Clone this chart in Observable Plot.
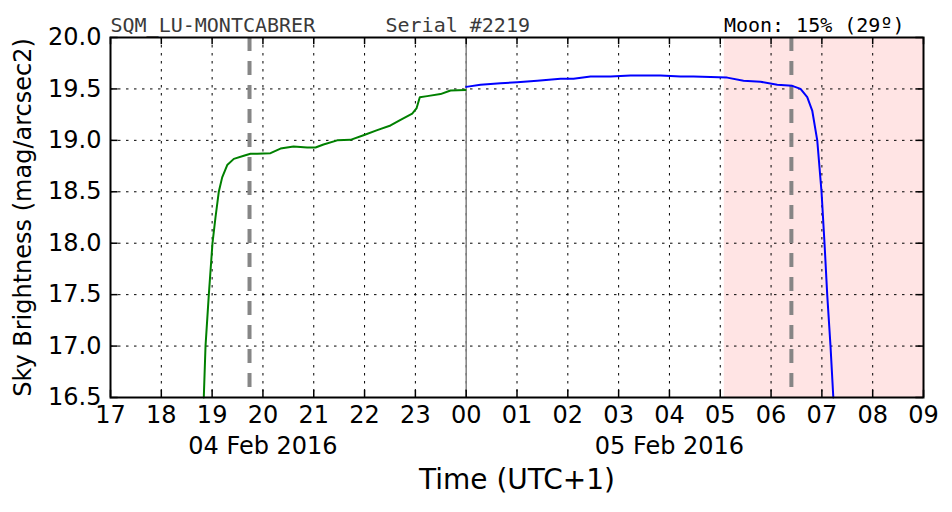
<!DOCTYPE html>
<html><head><meta charset="utf-8">
<script src="https://cdn.jsdelivr.net/npm/d3@7"></script>
<script src="https://cdn.jsdelivr.net/npm/@observablehq/plot@0.6"></script>
<style>body{margin:0;background:#fff} #chart{width:952px;height:512px}</style>
</head><body><div id="chart"></div>
<script>
// Hours counted from 04 Feb 2016 00:00 (UTC+1)
const xTicks = [17,18,19,20,21,22,23,24,25,26,27,28,29,30,31,32,33];
const xTickLabels = ["17","18","19","20","21","22","23","00","01","02","03","04","05","06","07","08","09"];
const yTicks = [16.5,17.0,17.5,18.0,18.5,19.0,19.5,20.0];
const eveningHours  = [18.836,18.870,18.935,19.007,19.066,19.131,19.198,19.297,19.427,19.623,19.755,19.887,20.149,20.346,20.602,20.871,21.035,21.192,21.462,21.724,21.979,22.249,22.511,22.708,22.938,23.022,23.087,23.233,23.495,23.692,23.987];
const eveningValues = [16.5,17.0,17.5,18.0,18.25,18.5,18.64,18.76,18.82,18.85,18.87,18.87,18.875,18.92,18.94,18.93,18.93,18.96,19.0,19.005,19.05,19.10,19.145,19.20,19.26,19.31,19.42,19.43,19.45,19.485,19.49];
const morningHours  = [24.0,24.282,24.676,25.004,25.398,25.857,26.112,26.447,26.841,27.235,27.825,28.219,28.474,28.809,29.137,29.458,29.793,30.122,30.416,30.580,30.712,30.810,30.909,30.993,31.052,31.105,31.170,31.225];
const morningValues = [19.52,19.54,19.555,19.565,19.58,19.60,19.60,19.62,19.62,19.63,19.63,19.62,19.62,19.615,19.61,19.58,19.57,19.54,19.53,19.50,19.42,19.29,19.0,18.5,18.0,17.5,17.0,16.5];
const twilightHours = [19.736, 30.40];
const moonUp = [{start: 29.08, end: 33}];
const midnight = [24];
const dateLabels = ["04 Feb 2016", "05 Feb 2016"];
const dateLabelHours = [20, 28];

const evening = eveningHours.map((h, i) => ({h, v: eveningValues[i]}));
const morning = morningHours.map((h, i) => ({h, v: morningValues[i]}));
const grid = {stroke: "black", strokeWidth: 1, strokeDasharray: "2.5,5.5", strokeOpacity: 1};

const plot = Plot.plot({
  width: 952, height: 512,
  marginLeft: 110, marginRight: 29, marginTop: 37, marginBottom: 115,
  style: {fontFamily: "DejaVu Sans", background: "white", overflow: "visible", color: "black"},
  x: {domain: [17, 33]},
  y: {domain: [16.5, 20]},
  marks: [
    Plot.rect(moonUp, {x1: "start", x2: "end", fill: "#ffe4e4"}),
    Plot.ruleX(xTicks.slice(1, -1), grid),
    Plot.ruleY(yTicks.slice(1, -1), grid),
    Plot.ruleX(midnight, {stroke: "#808080", strokeWidth: 1.5}),
    Plot.ruleX(twilightHours, {stroke: "#808080", strokeOpacity: 0.95, strokeWidth: 4, strokeDasharray: "14,10"}),
    Plot.line(evening, {x: "h", y: "v", stroke: "#008000", strokeWidth: 2}),
    Plot.line(morning, {x: "h", y: "v", stroke: "#0000ff", strokeWidth: 2}),
    Plot.frame({stroke: "black", strokeWidth: 2}),
    Plot.ruleX(xTicks, {y1: 16.5, y2: 16.5 + 0.07, stroke: "black", strokeWidth: 1.5}),
    Plot.ruleX(xTicks, {y1: 20, y2: 20 - 0.07, stroke: "black", strokeWidth: 1.5}),
    Plot.ruleY(yTicks, {x1: 17, x2: 17 + 0.15, stroke: "black", strokeWidth: 1.5}),
    Plot.ruleY(yTicks, {x1: 33, x2: 33 - 0.15, stroke: "black", strokeWidth: 1.5}),
    Plot.axisX(xTicks, {tickSize: 0, tickPadding: 8, fontSize: 24, label: null,
      tickFormat: d => xTickLabels[xTicks.indexOf(d)]}),
    Plot.axisY(yTicks, {tickSize: 0, tickPadding: 9, fontSize: 24, label: null,
      tickFormat: d => d.toFixed(1)}),
    Plot.text(dateLabels, {x: (d, i) => dateLabelHours[i], text: d => d, frameAnchor: "bottom",
      lineAnchor: "middle", dy: 49, fontSize: 24, fill: "black"}),
    Plot.text(["Time (UTC+1)"], {text: d => d, frameAnchor: "bottom", lineAnchor: "middle",
      dy: 83, fontSize: 28, fill: "black"}),
    Plot.text(["Sky Brightness (mag/arcsec2)"], {text: d => d, frameAnchor: "left", textAnchor: "middle",
      lineAnchor: "middle", rotate: -90, dx: -87, fontSize: 24, fill: "black"}),
    Plot.text(["SQM_LU-MONTCABRER"], {text: d => d, frameAnchor: "top-left", textAnchor: "start",
      lineAnchor: "middle", dy: -11.5, fontFamily: "DejaVu Sans Mono", fontSize: 20, fill: "#3a3a3a"}),
    Plot.text(["Serial #2219"], {text: d => d, frameAnchor: "top-left", textAnchor: "start",
      lineAnchor: "middle", dx: 275, dy: -11.5, fontFamily: "DejaVu Sans Mono", fontSize: 20, fill: "#3a3a3a"}),
    Plot.text(["Moon: 15% (29º)"], {text: d => d, frameAnchor: "top-right", textAnchor: "end",
      lineAnchor: "middle", dx: -19, dy: -11.5, fontFamily: "DejaVu Sans Mono", fontSize: 20, fill: "black"})
  ]
});
document.getElementById("chart").append(plot);
</script>
</body></html>
